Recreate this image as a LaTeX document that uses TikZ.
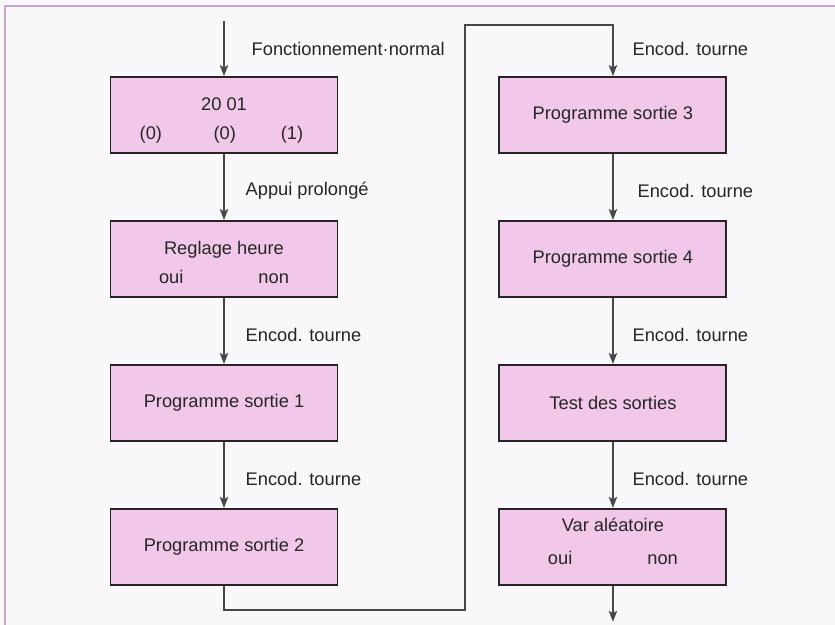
\documentclass[tikz,border=0pt]{standalone}
\usepackage{fontspec}
\setmainfont{Liberation Sans}
\usepackage{xcolor}
\definecolor{paper}{HTML}{F8F8FA}
\definecolor{frame}{HTML}{C9A3CA}
\definecolor{pinkfill}{HTML}{F2C8EA}
\definecolor{ink}{HTML}{262626}
\usepackage{tikz}
\usetikzlibrary{arrows.meta,positioning}
\tikzset{
    menu_card/.style={draw=ink, fill=pinkfill, line width=1.1pt, align=center, minimum width=4.54cm, minimum height=1.52cm, inner sep=2pt, text=ink},
    link_arrow/.style={-{Stealth[length=2.2mm,width=1.7mm,inset=0.5mm]}, line width=0.8pt, draw=ink!85},
    label_style/.style={inner sep=0pt, text=ink, anchor=west}
}
\newcommand{\ouinon}{oui\hspace{1.5cm}non}

\begin{document}
\begin{tikzpicture}[
    node distance=1.32cm and 3.2cm,
    every node/.style={font=\fontsize{10.4}{12.5}\selectfont}
]

  % Paper and frame
  \fill[paper] (0,0) rectangle (16.7,-12.5);
  \useasboundingbox (0,0) rectangle (16.7,-12.5);
  \draw[frame, line width=1pt] (16.7,-0.12) -- (0.1,-0.12) -- (0.1,-12.5);

  % Left column: clock, setup, outputs 1 and 2
  \node[menu_card] (step_clock) at (4.48,-2.30) {\rule{0pt}{13.5pt}20 01\\[4pt]\hspace*{-0.1cm}(0)\hspace{1.03cm}(0)\hspace{0.9cm}(1)};
  \node[menu_card, below=of step_clock] (step_setup) {\rule{0pt}{11pt}Reglage heure\\[4pt]\ouinon};
  \node[menu_card, below=of step_setup] (step_out1) {Programme sortie 1};
  \node[menu_card, below=of step_out1] (step_out2) {Programme sortie 2};

  % Right column: outputs 3 and 4, test, random
  \node[menu_card, right=of step_clock] (step_out3) {Programme sortie 3};
  \node[menu_card, below=of step_out3] (step_out4) {Programme sortie 4};
  \node[menu_card, below=of step_out4] (step_test) {Test des sorties};
  \node[menu_card, below=of step_test] (step_random) {Var aléatoire\\[6.7pt]\ouinon\rule[-6.2pt]{0pt}{6.2pt}};

  % Free ends of the flow
  \coordinate[above=1.1cm of step_clock] (in_start);
  \coordinate[below=0.72cm of step_random] (out_end);
  \coordinate (jog_low) at (9.30,-12.20);
  \coordinate (jog_high) at (9.30,-0.50);

  % Arrows and their conditions
  \draw[link_arrow] (in_start) -- node[midway, label_style, right=0.54cm] (lbl_normal) {Fonctionnement·normal} (step_clock);
  \draw[link_arrow] (step_clock) -- node[midway, label_style, right=0.42cm, yshift=-0.08cm] (lbl_long) {Appui prolongé} (step_setup);
  \draw[link_arrow] (step_setup) -- node[midway, label_style, right=0.42cm, yshift=-0.08cm] (lbl_enc_a) {Encod. tourne} (step_out1);
  \draw[link_arrow] (step_out1) -- node[midway, label_style, right=0.42cm, yshift=-0.08cm] (lbl_enc_b) {Encod. tourne} (step_out2);
  \draw[link_arrow] (step_out2.south) |- (jog_low) -- (jog_high) -| node[pos=0.75, label_style, right=0.38cm, yshift=0.03cm] (lbl_enc_c) {Encod. tourne} (step_out3.north);
  \draw[link_arrow] (step_out3) -- node[midway, label_style, right=0.48cm, yshift=-0.08cm] (lbl_enc_d) {Encod. tourne} (step_out4);
  \draw[link_arrow] (step_out4) -- node[midway, label_style, right=0.38cm, yshift=-0.08cm] (lbl_enc_e) {Encod. tourne} (step_test);
  \draw[link_arrow] (step_test) -- node[midway, label_style, right=0.38cm, yshift=-0.08cm] (lbl_enc_f) {Encod. tourne} (step_random);
  \draw[link_arrow] (step_random) -- (out_end);

\end{tikzpicture}
\end{document}
